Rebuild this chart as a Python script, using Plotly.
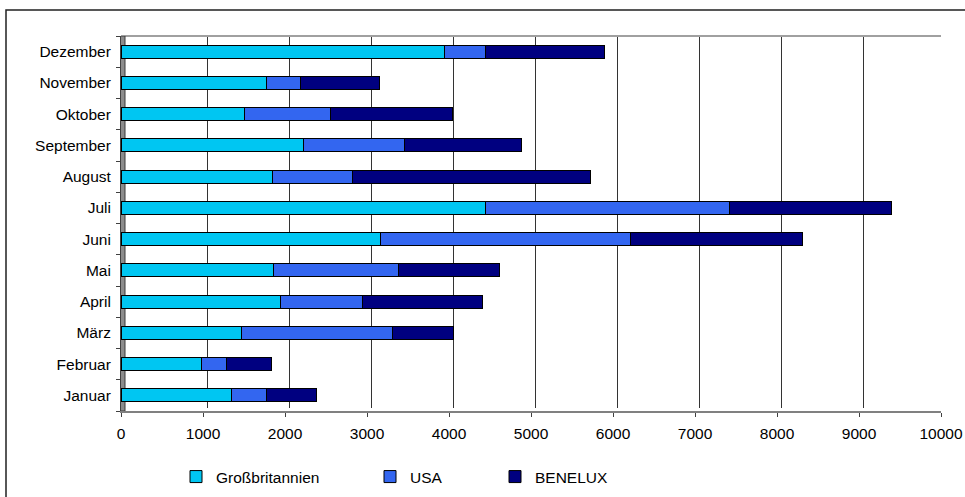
import plotly.graph_objects as go

# Monthly values per market (stacked horizontally)
months = ["Januar", "Februar", "März", "April", "Mai", "Juni",
          "Juli", "August", "September", "Oktober", "November", "Dezember"]
gb_values = [1350, 980, 1470, 1950, 1860, 3160, 4440, 1850, 2230, 1510, 1770, 3950]
usa_values = [420, 310, 1840, 1000, 1530, 3050, 2975, 975, 1225, 1050, 420, 490]
benelux_values = [610, 540, 745, 1460, 1230, 2100, 1985, 2900, 1425, 1485, 965, 1455]
x_ticks = list(range(0, 10001, 1000))

series = [
    ("Großbritannien", gb_values, "#00C6F2", "legend"),
    ("USA", usa_values, "#3366F0", "legend2"),
    ("BENELUX", benelux_values, "#000080", "legend3"),
]

FONT = "Liberation Sans, Arial, sans-serif"
W, H = 965, 497
L, R, T, B = 121, 24, 36, 86
plot_w = W - L - R

fig = go.Figure()
for name, vals, color, leg in series:
    fig.add_trace(go.Bar(
        y=months, x=vals, name=name, orientation="h",
        marker=dict(color=color, line=dict(color="#000000", width=1)),
        legend=leg, showlegend=True,
    ))

shapes = []
# depth-shifted vertical gridlines
for v in x_ticks[1:]:
    last = v == x_ticks[-1]
    shapes.append(dict(
        type="line", xref="x", xsizemode="pixel", xanchor=v, x0=4.5, x1=4.5,
        yref="paper", y0=0.008, y1=1,
        line=dict(color="#a0a0a0" if last else "#333333", width=2 if last else 1),
        layer="below",
    ))
# back top edge of the plot area
shapes.append(dict(
    type="line", xref="x", xsizemode="pixel", xanchor=0, x0=4, x1=plot_w + 5,
    yref="paper", y0=1, y1=1, line=dict(color="#a0a0a0", width=2), layer="below",
))
# left side wall
shapes.append(dict(
    type="rect", xref="x", xsizemode="pixel", xanchor=0, x0=-1, x1=4,
    yref="paper", y0=0, y1=1, fillcolor="#8c8c8c",
    line=dict(color="#3a3a3a", width=1), layer="below",
))
# outer chart frame
shapes.append(dict(
    type="rect", xref="paper", xsizemode="pixel", xanchor=0, x0=-(L - 6), x1=plot_w + 80,
    yref="paper", ysizemode="pixel", yanchor=1, y0=(T - 10), y1=-(H),
    line=dict(color="#202020", width=1.5), fillcolor="rgba(0,0,0,0)",
))

def lx(px):
    return (px - L) / plot_w

legend_style = dict(orientation="h", y=-0.176, xanchor="left", yanchor="middle",
                    font=dict(family=FONT, size=15.5, color="#000000"),
                    bgcolor="rgba(0,0,0,0)")

fig.update_layout(
    width=W, height=H,
    margin=dict(l=L, r=R, t=T, b=B, pad=0, autoexpand=False),
    paper_bgcolor="white", plot_bgcolor="white",
    barmode="stack", bargap=0.58, showlegend=True,
    font=dict(family=FONT, size=15.5, color="#000000"),
    shapes=shapes,
    xaxis=dict(
        range=[0, 10000], tickvals=x_ticks, ticktext=[str(v) for v in x_ticks],
        showgrid=False, zeroline=False,
        showline=True, linecolor="#808080", linewidth=2,
        ticks="outside", ticklen=4, tickcolor="#404040", tickwidth=1,
        ticklabelstandoff=3,
        tickfont=dict(family=FONT, size=15.5, color="#000000"),
    ),
    yaxis=dict(
        categoryorder="array", categoryarray=months,
        showgrid=False, zeroline=False,
        showline=True, linecolor="#404040", linewidth=1,
        ticks="outside", ticklen=4, tickcolor="#404040", tickson="boundaries",
        ticklabelstandoff=6,
        tickfont=dict(family=FONT, size=15.5, color="#000000"),
    ),
    legend=dict(x=lx(176), **legend_style),
    legend2=dict(x=lx(370), **legend_style),
    legend3=dict(x=lx(495), **legend_style),
)

fig.write_html("out.html")
